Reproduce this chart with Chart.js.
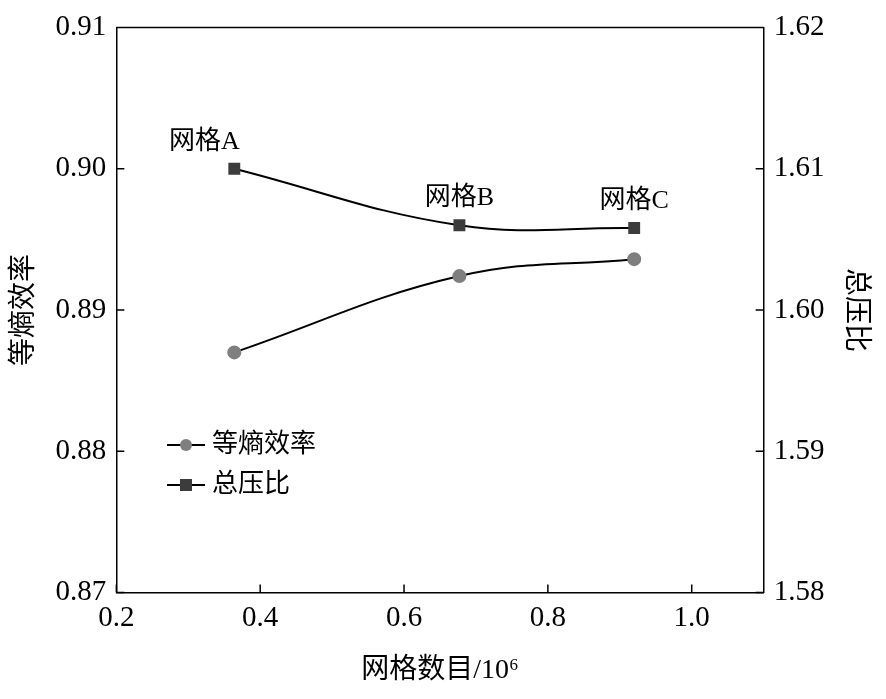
<!DOCTYPE html>
<html><head><meta charset="utf-8">
<script src="https://cdn.jsdelivr.net/npm/chart.js@4"></script>
<style>body{margin:0;background:#fff}#wrap{width:886px;height:699px}</style>
</head><body><div id="wrap"><canvas id="c"></canvas></div>
<script>
const gridX = [0.364, 0.677, 0.92];
const gridNames = ["网格A", "网格B", "网格C"];
const efficiency = [0.8870, 0.8924, 0.8936];
const pressure = [1.6100, 1.6060, 1.6058];
const xTicks = [0.2, 0.4, 0.6, 0.8, 1.0];
const yTicks = [0.87, 0.88, 0.89, 0.90, 0.91];
const y2Ticks = [1.58, 1.59, 1.60, 1.61, 1.62];
const FONT = "'Liberation Serif','Noto Sans CJK SC',serif";

const extras = {
  id: "extras",
  afterDatasetsDraw(chart) {
    const { ctx, scales, chartArea: a } = chart;
    ctx.save();
    // inward ticks
    ctx.strokeStyle = "#000"; ctx.lineWidth = 1.5;
    ctx.beginPath();
    xTicks.forEach(v => { const p = scales.x.getPixelForValue(v); ctx.moveTo(p, a.bottom); ctx.lineTo(p, a.bottom - 8); });
    yTicks.forEach(v => { const p = scales.y.getPixelForValue(v); ctx.moveTo(a.left, p); ctx.lineTo(a.left + 8, p); });
    y2Ticks.forEach(v => { const p = scales.y2.getPixelForValue(v); ctx.moveTo(a.right, p); ctx.lineTo(a.right - 8, p); });
    ctx.moveTo(a.left, a.top); ctx.lineTo(a.right, a.top);
    ctx.stroke();
    ctx.font = "26px " + FONT;
    ctx.fillStyle = "#000";
    ctx.textAlign = "center";
    ctx.textBaseline = "bottom";
    gridX.forEach((x, i) => {
      ctx.fillText(gridNames[i], scales.x.getPixelForValue(x) - (i === 0 ? 30 : 0),
        scales.y2.getPixelForValue(pressure[i]) - 14);
    });
    // legend
    const items = [["等熵效率", "circle", "#7f7f7f"], ["总压比", "rect", "#3c3c3c"]];
    items.forEach((it, i) => {
      const y = 445 + i * 40, x0 = 167, x1 = 205;
      ctx.strokeStyle = "#000"; ctx.lineWidth = 2;
      ctx.beginPath(); ctx.moveTo(x0, y); ctx.lineTo(x1, y); ctx.stroke();
      ctx.fillStyle = it[2];
      if (it[1] === "circle") { ctx.beginPath(); ctx.arc(186, y, 6, 0, Math.PI * 2); ctx.fill(); }
      else ctx.fillRect(180, y - 6, 12, 12);
      ctx.fillStyle = "#000"; ctx.textAlign = "left"; ctx.textBaseline = "middle";
      ctx.fillText(it[0], 212, y);
    });
    ctx.restore();
  }
};

const tickFont = { size: 29, family: FONT };
const titleFont = { size: 28, family: FONT };
new Chart(document.getElementById("c"), {
  type: "line",
  data: {
    datasets: [
      { label: "等熵效率", data: gridX.map((x, i) => ({ x, y: efficiency[i] })), yAxisID: "y",
        borderColor: "#000", borderWidth: 2, tension: 0.4, pointStyle: "circle", pointRadius: 6,
        pointBackgroundColor: "#7f7f7f", pointBorderColor: "#7f7f7f" },
      { label: "总压比", data: gridX.map((x, i) => ({ x, y: pressure[i] })), yAxisID: "y2",
        borderColor: "#000", borderWidth: 2, tension: 0.4, pointStyle: "rect", pointRadius: 7,
        pointBackgroundColor: "#3c3c3c", pointBorderColor: "#3c3c3c" }
    ]
  },
  options: {
    animation: false, responsive: true, maintainAspectRatio: false,
    layout: { padding: { top: 16, right: 10, left: 4, bottom: 8 } },
    plugins: { legend: { display: false }, tooltip: { enabled: false } },
    scales: {
      x: { type: "linear", min: 0.2, max: 1.1,
        afterBuildTicks: s => { s.ticks = xTicks.map(v => ({ value: v })); },
        ticks: { color: "#000", font: tickFont, padding: 8, callback: v => v.toFixed(1) },
        grid: { display: false, drawTicks: false },
        border: { color: "#000", width: 1.5 },
        title: { display: true, text: "网格数目/10⁶", color: "#000", font: titleFont, padding: { top: 10 } } },
      y: { position: "left", min: 0.87, max: 0.91,
        afterBuildTicks: s => { s.ticks = yTicks.map(v => ({ value: v })); },
        ticks: { color: "#000", font: tickFont, padding: 10, callback: v => v.toFixed(2) },
        grid: { display: false, drawTicks: false }, border: { color: "#000", width: 1.5 },
        title: { display: true, text: "等熵效率", color: "#000", font: titleFont } },
      y2: { position: "right", min: 1.58, max: 1.62,
        afterBuildTicks: s => { s.ticks = y2Ticks.map(v => ({ value: v })); },
        ticks: { color: "#000", font: tickFont, padding: 10, callback: v => v.toFixed(2) },
        grid: { display: false, drawTicks: false }, border: { color: "#000", width: 1.5 },
        title: { display: true, text: "总压比", color: "#000", font: titleFont } }
    }
  },
  plugins: [extras]
});
</script></body></html>
